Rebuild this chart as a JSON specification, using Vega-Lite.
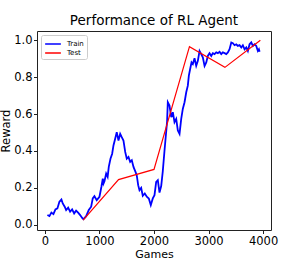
{
  "$schema": "https://vega.github.io/schema/vega-lite/v6.json",
  "autosize": {"type": "none"},
  "width": 234,
  "height": 199,
  "padding": {"left": 37, "top": 31, "right": 30, "bottom": 30},
  "background": "white",
  "config": {
    "font": "DejaVu Sans",
    "view": {"stroke": "#222", "strokeWidth": 1},
    "axis": {"grid": false, "domain": false, "tickColor": "#222", "tickSize": 3.5, "labelFontSize": 11.5, "labelColor": "#000", "titleFontSize": 11.5, "titleFontWeight": "normal", "titleColor": "#000", "labelPadding": 1.5}
  },
  "title": {"text": "Performance of RL Agent", "fontSize": 13.5, "fontWeight": "normal", "color": "#000", "anchor": "middle", "offset": 4},
  "datasets": {
    "train": [
      {"series": "Train", "games": 46, "reward": 0.053},
      {"series": "Train", "games": 83, "reward": 0.047},
      {"series": "Train", "games": 119, "reward": 0.066},
      {"series": "Train", "games": 156, "reward": 0.058},
      {"series": "Train", "games": 193, "reward": 0.084},
      {"series": "Train", "games": 229, "reward": 0.089},
      {"series": "Train", "games": 266, "reward": 0.125},
      {"series": "Train", "games": 303, "reward": 0.137},
      {"series": "Train", "games": 327, "reward": 0.116},
      {"series": "Train", "games": 363, "reward": 0.098},
      {"series": "Train", "games": 389, "reward": 0.08},
      {"series": "Train", "games": 426, "reward": 0.093},
      {"series": "Train", "games": 462, "reward": 0.071},
      {"series": "Train", "games": 499, "reward": 0.084},
      {"series": "Train", "games": 536, "reward": 0.062},
      {"series": "Train", "games": 572, "reward": 0.077},
      {"series": "Train", "games": 609, "reward": 0.066},
      {"series": "Train", "games": 646, "reward": 0.053},
      {"series": "Train", "games": 683, "reward": 0.037},
      {"series": "Train", "games": 706, "reward": 0.03},
      {"series": "Train", "games": 756, "reward": 0.047},
      {"series": "Train", "games": 804, "reward": 0.08},
      {"series": "Train", "games": 848, "reward": 0.098},
      {"series": "Train", "games": 877, "reward": 0.143},
      {"series": "Train", "games": 908, "reward": 0.155},
      {"series": "Train", "games": 950, "reward": 0.134},
      {"series": "Train", "games": 1000, "reward": 0.152},
      {"series": "Train", "games": 1035, "reward": 0.205},
      {"series": "Train", "games": 1061, "reward": 0.25},
      {"series": "Train", "games": 1075, "reward": 0.224},
      {"series": "Train", "games": 1092, "reward": 0.236},
      {"series": "Train", "games": 1123, "reward": 0.278},
      {"series": "Train", "games": 1150, "reward": 0.26},
      {"series": "Train", "games": 1171, "reward": 0.314},
      {"series": "Train", "games": 1202, "reward": 0.358},
      {"series": "Train", "games": 1233, "reward": 0.385},
      {"series": "Train", "games": 1257, "reward": 0.43},
      {"series": "Train", "games": 1288, "reward": 0.466},
      {"series": "Train", "games": 1317, "reward": 0.502},
      {"series": "Train", "games": 1349, "reward": 0.457},
      {"series": "Train", "games": 1380, "reward": 0.493},
      {"series": "Train", "games": 1409, "reward": 0.475},
      {"series": "Train", "games": 1440, "reward": 0.457},
      {"series": "Train", "games": 1472, "reward": 0.395},
      {"series": "Train", "games": 1501, "reward": 0.358},
      {"series": "Train", "games": 1532, "reward": 0.368},
      {"series": "Train", "games": 1563, "reward": 0.341},
      {"series": "Train", "games": 1593, "reward": 0.35},
      {"series": "Train", "games": 1624, "reward": 0.314},
      {"series": "Train", "games": 1661, "reward": 0.287},
      {"series": "Train", "games": 1684, "reward": 0.268},
      {"series": "Train", "games": 1710, "reward": 0.215},
      {"series": "Train", "games": 1734, "reward": 0.188},
      {"series": "Train", "games": 1765, "reward": 0.2},
      {"series": "Train", "games": 1794, "reward": 0.157},
      {"series": "Train", "games": 1831, "reward": 0.17},
      {"series": "Train", "games": 1868, "reward": 0.152},
      {"series": "Train", "games": 1905, "reward": 0.143},
      {"series": "Train", "games": 1941, "reward": 0.107},
      {"series": "Train", "games": 1978, "reward": 0.143},
      {"series": "Train", "games": 2009, "reward": 0.161},
      {"series": "Train", "games": 2040, "reward": 0.233},
      {"series": "Train", "games": 2070, "reward": 0.242},
      {"series": "Train", "games": 2101, "reward": 0.175},
      {"series": "Train", "games": 2132, "reward": 0.21},
      {"series": "Train", "games": 2161, "reward": 0.29},
      {"series": "Train", "games": 2192, "reward": 0.4},
      {"series": "Train", "games": 2222, "reward": 0.5},
      {"series": "Train", "games": 2240, "reward": 0.56},
      {"series": "Train", "games": 2253, "reward": 0.664},
      {"series": "Train", "games": 2284, "reward": 0.646},
      {"series": "Train", "games": 2316, "reward": 0.583},
      {"series": "Train", "games": 2345, "reward": 0.61},
      {"series": "Train", "games": 2376, "reward": 0.556},
      {"series": "Train", "games": 2407, "reward": 0.574},
      {"series": "Train", "games": 2437, "reward": 0.511},
      {"series": "Train", "games": 2468, "reward": 0.493},
      {"series": "Train", "games": 2499, "reward": 0.574},
      {"series": "Train", "games": 2528, "reward": 0.628},
      {"series": "Train", "games": 2560, "reward": 0.664},
      {"series": "Train", "games": 2591, "reward": 0.718},
      {"series": "Train", "games": 2620, "reward": 0.754},
      {"series": "Train", "games": 2639, "reward": 0.808},
      {"series": "Train", "games": 2660, "reward": 0.84},
      {"series": "Train", "games": 2688, "reward": 0.88},
      {"series": "Train", "games": 2712, "reward": 0.871},
      {"series": "Train", "games": 2743, "reward": 0.903},
      {"series": "Train", "games": 2774, "reward": 0.861},
      {"series": "Train", "games": 2804, "reward": 0.888},
      {"series": "Train", "games": 2835, "reward": 0.942},
      {"series": "Train", "games": 2866, "reward": 0.925},
      {"series": "Train", "games": 2895, "reward": 0.907},
      {"series": "Train", "games": 2927, "reward": 0.861},
      {"series": "Train", "games": 2958, "reward": 0.88},
      {"series": "Train", "games": 2987, "reward": 0.915},
      {"series": "Train", "games": 3018, "reward": 0.93},
      {"series": "Train", "games": 3050, "reward": 0.915},
      {"series": "Train", "games": 3079, "reward": 0.93},
      {"series": "Train", "games": 3110, "reward": 0.925},
      {"series": "Train", "games": 3141, "reward": 0.934},
      {"series": "Train", "games": 3171, "reward": 0.93},
      {"series": "Train", "games": 3202, "reward": 0.937},
      {"series": "Train", "games": 3233, "reward": 0.925},
      {"series": "Train", "games": 3262, "reward": 0.934},
      {"series": "Train", "games": 3294, "reward": 0.93},
      {"series": "Train", "games": 3325, "reward": 0.925},
      {"series": "Train", "games": 3354, "reward": 0.934},
      {"series": "Train", "games": 3385, "reward": 0.951},
      {"series": "Train", "games": 3417, "reward": 0.988},
      {"series": "Train", "games": 3446, "reward": 0.984},
      {"series": "Train", "games": 3477, "reward": 0.973},
      {"series": "Train", "games": 3508, "reward": 0.978},
      {"series": "Train", "games": 3537, "reward": 0.969},
      {"series": "Train", "games": 3569, "reward": 0.973},
      {"series": "Train", "games": 3600, "reward": 0.961},
      {"series": "Train", "games": 3629, "reward": 0.973},
      {"series": "Train", "games": 3661, "reward": 0.951},
      {"series": "Train", "games": 3692, "reward": 0.961},
      {"series": "Train", "games": 3721, "reward": 0.942},
      {"series": "Train", "games": 3752, "reward": 0.978},
      {"series": "Train", "games": 3783, "reward": 0.988},
      {"series": "Train", "games": 3813, "reward": 0.969},
      {"series": "Train", "games": 3844, "reward": 0.978},
      {"series": "Train", "games": 3875, "reward": 0.969},
      {"series": "Train", "games": 3904, "reward": 0.942},
      {"series": "Train", "games": 3923, "reward": 0.951},
      {"series": "Train", "games": 3936, "reward": 0.937}
    ],
    "test": [
      {"series": "Test", "games": 700, "reward": 0.025},
      {"series": "Test", "games": 1350, "reward": 0.245},
      {"series": "Test", "games": 2000, "reward": 0.3},
      {"series": "Test", "games": 2650, "reward": 0.965},
      {"series": "Test", "games": 3300, "reward": 0.853},
      {"series": "Test", "games": 3950, "reward": 1.0}
    ]
  },
  "encoding": {
    "x": {"field": "games", "type": "quantitative", "title": "Games", "scale": {"domain": [-145, 4145], "nice": false, "zero": false}, "axis": {"values": [0, 1000, 2000, 3000, 4000], "format": "d", "titlePadding": 1.5, "titleFontSize": 11}},
    "y": {"field": "reward", "type": "quantitative", "title": "Reward", "scale": {"domain": [-0.028, 1.05], "nice": false, "zero": false}, "axis": {"values": [0, 0.2, 0.4, 0.6, 0.8, 1.0], "format": ".1f", "titlePadding": 2}},
    "color": {"field": "series", "type": "nominal", "scale": {"domain": ["Train", "Test"], "range": ["#0000ff", "#ff0000"]},
      "legend": {"title": null, "orient": "top-left", "offset": 4, "padding": 3, "symbolType": "M-1.5,0H1.5", "symbolSize": 110, "symbolOffset": 3, "symbolStrokeWidth": 1.5, "labelOffset": 8, "labelFontSize": 7, "labelColor": "#000", "rowPadding": 0, "strokeColor": "#ccc", "fillColor": "white", "cornerRadius": 2}}
  },
  "layer": [
    {"data": {"name": "train"}, "mark": {"type": "line", "strokeWidth": 1.8, "clip": true}},
    {"data": {"name": "test"}, "mark": {"type": "line", "strokeWidth": 1.2, "clip": true}}
  ]
}
